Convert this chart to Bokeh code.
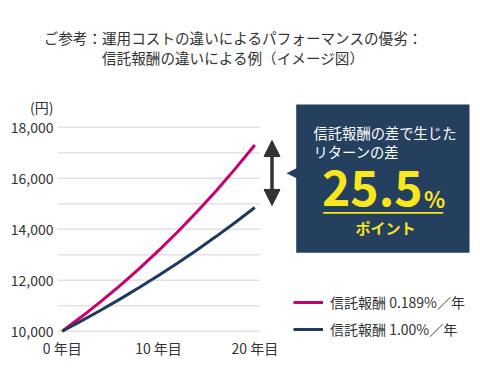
from bokeh.plotting import figure
from bokeh.layouts import column
from bokeh.models import (FixedTicker, Label, BoxAnnotation, PolyAnnotation, Arrow, Div,
                          NormalHead, Legend, LegendItem, NumeralTickFormatter, Range1d)
from bokeh.embed import file_html
from bokeh.resources import INLINE

# ---- data ----
years = [0, 2, 4, 6, 8, 10, 12, 14, 16, 18, 20]
fee_low = [10000, 10564, 11160, 11789, 12454, 13156, 13898, 14682, 15510, 16385, 17304]
fee_high = [10000, 10403, 10823, 11259, 11713, 12185, 12677, 13188, 13720, 14274, 14850]
series_names = ["信託報酬 0.189%／年", "信託報酬 1.00%／年"]
x_ticks = [0, 10, 20]
x_tick_labels = ["0 年目", "10 年目", "20 年目"]
y_ticks = [10000, 12000, 14000, 16000, 18000]
grid_values = [10000, 11000, 12000, 13000, 14000, 15000, 16000, 17000, 18000]
title_lines = ["ご参考：運用コストの違いによるパフォーマンスの優劣：",
               "信託報酬の違いによる例（イメージ図）"]
unit_label = "(円)"
box_lines = ["信託報酬の差で生じた", "リターンの差"]
box_value = "25.5"
box_pct = "%"
box_unit = "ポイント"

FONT = "Noto Sans CJK JP"
TXT = "#333333"
MAGENTA = "#c8006e"
NAVY = "#1f3a5c"
BOXC = "#253f5f"
YELLOW = "#f8e71c"

W = 480
TOP_H = 96

# ---------- title ----------
title_html = ("<div style=\"display:block;width:466px;font-family:'Noto Sans CJK JP';"
              "font-size:14.6px;line-height:20px;color:#333333;text-align:center;"
              "padding-top:28px;margin:0;\">"
              + "<br>".join(title_lines) + "</div>")
title_div = Div(text=title_html, width=W, height=TOP_H, margin=0)

# ---------- chart ----------
ML = 57
FRAME_TOP, FRAME_BOT = TOP_H, 339      # page pixels
H = 386 - TOP_H
MB = 386 - FRAME_BOT
FL = ML

PX_PER_YEAR = 9.63
X0_PAGE = 61.7
PX_PER_UNIT = 0.0255
Y10K_PAGE = 330.7
x_start = -(X0_PAGE - FL) / PX_PER_YEAR
x_end = x_start + (W - ML) / PX_PER_YEAR
y_start = 10000 - (FRAME_BOT - Y10K_PAGE) / PX_PER_UNIT
y_end = 10000 + (Y10K_PAGE - FRAME_TOP) / PX_PER_UNIT


def sx(px):
    return px - FL


def sy(py):
    return FRAME_BOT - py


p = figure(width=W, height=H, output_backend="svg", toolbar_location=None,
           x_range=Range1d(x_start, x_end), y_range=Range1d(y_start, y_end),
           min_border_left=ML, min_border_right=0, min_border_top=0,
           min_border_bottom=MB, outline_line_color=None, margin=0)

p.xgrid.visible = False
p.ygrid.visible = False

# horizontal grid lines limited to the chart area
gx0 = x_start
gx1 = years[-1] + 0.52
p.segment(x0=[gx0] * len(grid_values), x1=[gx1] * len(grid_values),
          y0=grid_values, y1=grid_values, line_color="#e2e2e2", line_width=1.5)

r1 = p.line(years, fee_low, line_color=MAGENTA, line_width=3)
r2 = p.line(years, fee_high, line_color=NAVY, line_width=3)

# axes ("(円)" is shown as the top label of the value axis)
unit_pos = y_ticks[-1] + (126.7 - 102.5) / PX_PER_UNIT
p.yaxis.ticker = FixedTicker(ticks=y_ticks + [unit_pos])
p.yaxis.formatter = NumeralTickFormatter(format="0,0")
p.yaxis.major_label_overrides = {unit_pos: unit_label}
p.xaxis.ticker = FixedTicker(ticks=x_ticks)
p.xaxis.major_label_overrides = {tk: lb for tk, lb in zip(x_ticks, x_tick_labels)}
for ax in (p.xaxis, p.yaxis):
    ax.axis_line_color = None
    ax.major_tick_line_color = None
    ax.minor_tick_line_color = None
    ax.major_tick_out = 0
    ax.major_tick_in = 0
    ax.major_label_text_font = FONT
    ax.major_label_text_font_size = "14px"
    ax.major_label_text_color = TXT
p.yaxis.major_label_standoff = 4
p.xaxis.major_label_standoff = -2

# double arrow
p.add_layout(Arrow(x_start=sx(271.5), y_start=sy(140), x_end=sx(271.5), y_end=sy(205),
                   start_units="screen", end_units="screen",
                   start=NormalHead(size=16, fill_color=TXT, line_color=TXT),
                   end=NormalHead(size=16, fill_color=TXT, line_color=TXT),
                   line_color=TXT, line_width=3.5))

# call-out box
p.add_layout(BoxAnnotation(left=sx(295.7), right=sx(469), top=sy(104), bottom=sy(252.3),
                           left_units="screen", right_units="screen",
                           top_units="screen", bottom_units="screen",
                           fill_color=BOXC, fill_alpha=1, line_color=None))
p.add_layout(PolyAnnotation(xs=[sx(286), sx(296.5), sx(296.5)],
                            ys=[sy(172.7), sy(167.5), sy(178)],
                            xs_units="screen", ys_units="screen",
                            fill_color=BOXC, fill_alpha=1, line_color=None))
for txt, py in zip(box_lines, [131.7, 150.5]):
    p.add_layout(Label(x=sx(313), y=sy(py), x_units="screen", y_units="screen",
                       text=txt, text_baseline="middle", text_font=FONT,
                       text_font_size="14.3px", text_color="white"))
p.add_layout(Label(x=sx(321.5), y=sy(187.6), x_units="screen", y_units="screen",
                   text=box_value, text_baseline="middle", text_font=FONT,
                   text_font_size="48px", text_font_style="bold", text_color=YELLOW))
p.add_layout(Label(x=sx(423.5), y=sy(197.3), x_units="screen", y_units="screen",
                   text=box_pct, text_baseline="middle", text_font=FONT,
                   text_font_size="22px", text_font_style="bold", text_color=YELLOW))
p.add_layout(BoxAnnotation(left=sx(322.7), right=sx(442.7), top=sy(211.5), bottom=sy(213.2),
                           left_units="screen", right_units="screen",
                           top_units="screen", bottom_units="screen",
                           fill_color=YELLOW, fill_alpha=1, line_color=None))
p.add_layout(Label(x=sx(385), y=sy(226.7), x_units="screen", y_units="screen",
                   text=box_unit, text_align="center", text_baseline="middle",
                   text_font=FONT, text_font_size="15px", text_font_style="bold",
                   text_color=YELLOW))

# legend
legend = Legend(items=[LegendItem(label=series_names[0], renderers=[r1]),
                       LegendItem(label=series_names[1], renderers=[r2])],
                location=(sx(293), sy(338.7)), glyph_width=30, glyph_height=20,
                label_height=20, spacing=7, padding=0, margin=0, label_standoff=7,
                border_line_color=None, background_fill_alpha=0,
                label_text_font=FONT, label_text_font_size="14px",
                label_text_color=TXT)
p.add_layout(legend)

layout = column(title_div, p, spacing=0)
open("out.html", "w").write(file_html(layout, INLINE))
